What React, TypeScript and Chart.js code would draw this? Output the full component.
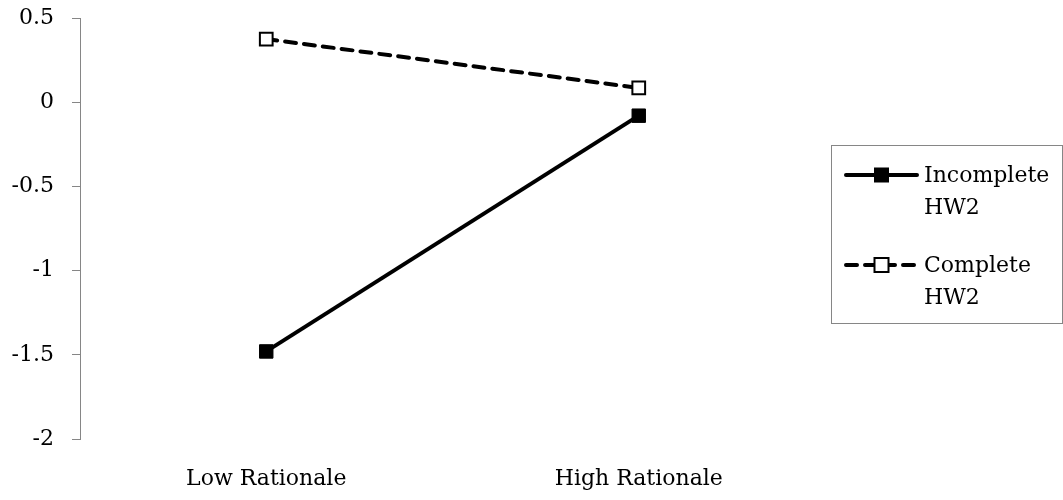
import React, { useEffect, useRef } from "react";
import { Chart, registerables } from "chart.js";

Chart.register(...registerables);

const categories = ["Low Rationale", "High Rationale"];
const incompleteValues = [-1.48, -0.08];
const completeValues = [0.375, 0.085];
const seriesLabels = [["Incomplete", "HW2"], ["Complete", "HW2"]];
const yTicks = [-2, -1.5, -1, -0.5, 0, 0.5];

const FONT = "DejaVu Serif";
const FONT_SIZE = 22;

const legendPlugin = {
  id: "boxLegend",
  afterDraw(chart: any) {
    const ctx = chart.ctx;
    const left = chart.chartArea.right + 6;
    const top = 145;
    const right = 1062;
    const bottom = 323;
    ctx.save();
    ctx.strokeStyle = "#868686";
    ctx.lineWidth = 1;
    ctx.strokeRect(left + 0.5, top + 0.5, right - left, bottom - top);
    const rows = [175, 265];
    chart.data.datasets.forEach((ds: any, i: number) => {
      const y = rows[i];
      const x0 = left + 15;
      const x1 = left + 86;
      ctx.beginPath();
      ctx.lineWidth = ds.borderWidth;
      ctx.strokeStyle = ds.borderColor;
      ctx.lineCap = "round";
      ctx.setLineDash(ds.borderDash || []);
      ctx.moveTo(x0, y);
      ctx.lineTo(x1, y);
      ctx.stroke();
      ctx.setLineDash([]);
      const cx = (x0 + x1) / 2;
      const s = 7;
      ctx.fillStyle = ds.pointBackgroundColor;
      ctx.fillRect(cx - s, y - s, 2 * s, 2 * s);
      ctx.lineWidth = ds.pointBorderWidth;
      ctx.strokeStyle = ds.pointBorderColor;
      ctx.strokeRect(cx - s, y - s, 2 * s, 2 * s);
      ctx.fillStyle = "#000";
      ctx.font = `${FONT_SIZE}px "${FONT}"`;
      ctx.textBaseline = "middle";
      ctx.textAlign = "left";
      seriesLabels[i].forEach((t, j) => {
        ctx.fillText(t, left + 93, y + 1 + j * 32);
      });
    });
    ctx.restore();
  },
};

export default function App() {
  const ref = useRef<HTMLCanvasElement>(null);
  useEffect(() => {
    if (!ref.current) return;
    const chart = new Chart(ref.current, {
      type: "line",
      data: {
        labels: categories,
        datasets: [
          {
            label: seriesLabels[0].join(" "),
            data: incompleteValues,
            borderColor: "#000",
            borderWidth: 4,
            pointStyle: "rect",
            pointRadius: 9.5,
            pointBackgroundColor: "#000",
            pointBorderColor: "#000",
            pointBorderWidth: 1,
            fill: false,
            tension: 0,
          },
          {
            label: seriesLabels[1].join(" "),
            data: completeValues,
            borderColor: "#000",
            borderWidth: 4,
            borderDash: [11, 8],
            borderCapStyle: "round",
            pointStyle: "rect",
            pointRadius: 9,
            pointBackgroundColor: "#fff",
            pointBorderColor: "#000",
            pointBorderWidth: 2,
            fill: false,
            tension: 0,
          },
        ],
      },
      options: {
        responsive: false,
        animation: false,
        layout: { padding: { top: 18, right: 238, left: 0, bottom: 0 } },
        plugins: { legend: { display: false }, tooltip: { enabled: false } },
        scales: {
          x: {
            type: "category",
            offset: true,
            grid: { display: false, drawTicks: false },
            border: { display: false },
            ticks: { color: "#000", font: { family: FONT, size: FONT_SIZE }, padding: 27, maxRotation: 0 },
            afterFit(scale: any) {
              scale.height = 61;
              scale.paddingLeft = 0;
              scale.paddingRight = 0;
            },
          },
          y: {
            min: -2,
            max: 0.5,
            afterBuildTicks(scale: any) {
              scale.ticks = yTicks.map((v) => ({ value: v }));
            },
            ticks: {
              color: "#000",
              font: { family: FONT, size: FONT_SIZE },
              padding: 18,
              callback: (v: any) => String(v),
            },
            grid: { drawOnChartArea: false, drawTicks: true, tickLength: 8, color: "#868686" },
            border: { display: true, color: "#868686", width: 1 },
            afterFit(scale: any) {
              scale.width = 80;
              scale.paddingTop = 0;
              scale.paddingBottom = 0;
            },
          },
        },
      },
      plugins: [legendPlugin],
    } as any);
    return () => chart.destroy();
  }, []);
  return (
    <div style={{ position: "absolute", left: 0, top: 0, width: 1063, height: 500, background: "#fff" }}>
      <canvas ref={ref} width={1063} height={500} />
    </div>
  );
}
